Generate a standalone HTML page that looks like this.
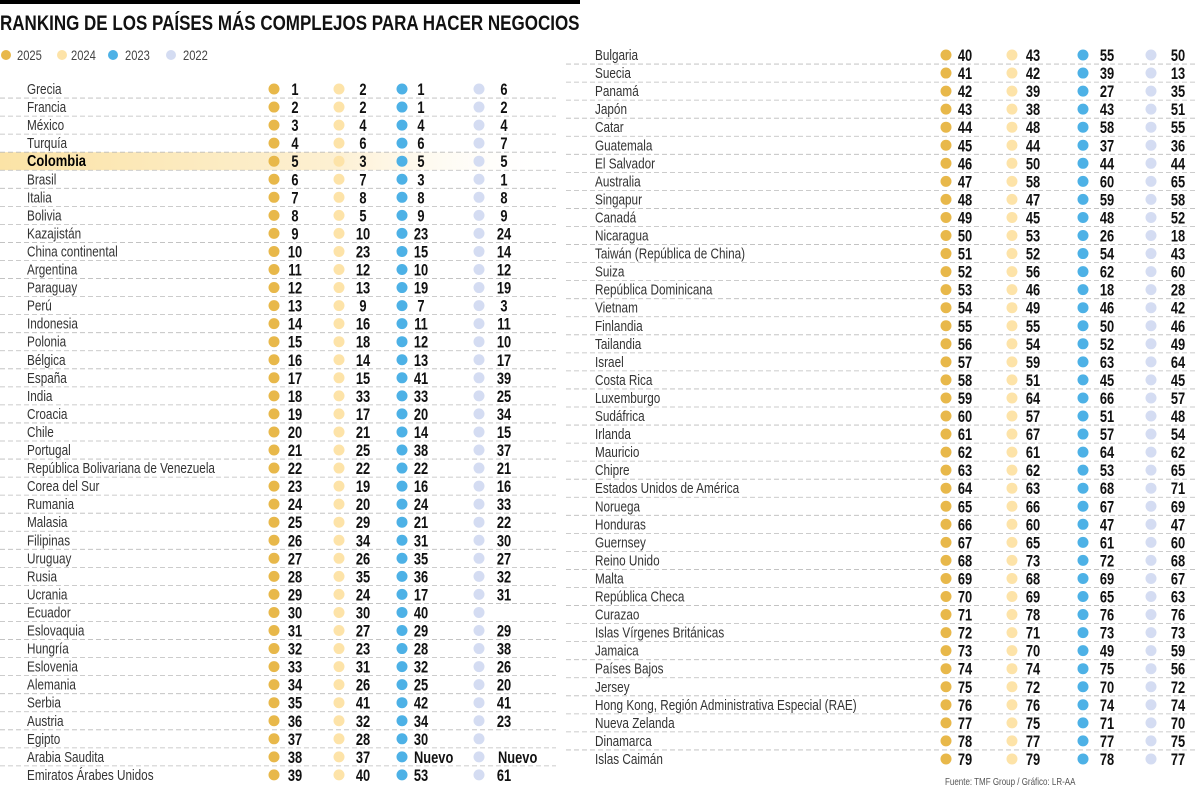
<!DOCTYPE html>
<html><head><meta charset="utf-8">
<style>
html,body{margin:0;padding:0;background:#fff;width:1200px;height:791px;overflow:hidden}
svg{display:block}
text{font-family:"Liberation Sans Narrow","Liberation Sans",sans-serif}
</style></head>
<body>
<svg id="chart" width="1200" height="791" viewBox="0 0 1200 791" xmlns="http://www.w3.org/2000/svg">
<defs>
<linearGradient id="hl" x1="0" x2="1" y1="0" y2="0">
<stop offset="0" stop-color="#fbe3a6"/><stop offset="0.6" stop-color="#fdf0d2"/><stop offset="1" stop-color="#fff" stop-opacity="0"/>
</linearGradient>
</defs>
<rect x="0" y="0" width="580" height="4" fill="#000"/>
<text transform="translate(0,30) scale(0.81,1)" font-size="21" font-weight="bold" fill="#111">RANKING DE LOS PAÍSES MÁS COMPLEJOS PARA HACER NEGOCIOS</text>
<g font-size="14" fill="#444">
<circle cx="6" cy="55" r="5" fill="#e8b84a"/><text transform="translate(17,60) scale(0.8,1)">2025</text>
<circle cx="62" cy="55" r="5" fill="#fde3a8"/><text transform="translate(71,60) scale(0.8,1)">2024</text>
<circle cx="113" cy="55" r="5" fill="#4db1e6"/><text transform="translate(125,60) scale(0.8,1)">2023</text>
<circle cx="171" cy="55" r="5" fill="#d4dcf2"/><text transform="translate(183,60) scale(0.8,1)">2022</text>
</g>
<g id="rows"></g>
<text transform="translate(945,785) scale(0.8,1)" font-size="10" fill="#555">Fuente: TMF Group / Gráfico: LR-AA</text>
</svg>
<script>
const countries = ["Grecia","Francia","México","Turquía","Colombia","Brasil","Italia","Bolivia","Kazajistán","China continental","Argentina","Paraguay","Perú","Indonesia","Polonia","Bélgica","España","India","Croacia","Chile","Portugal","República Bolivariana de Venezuela","Corea del Sur","Rumania","Malasia","Filipinas","Uruguay","Rusia","Ucrania","Ecuador","Eslovaquia","Hungría","Eslovenia","Alemania","Serbia","Austria","Egipto","Arabia Saudita","Emiratos Árabes Unidos",
"Bulgaria","Suecia","Panamá","Japón","Catar","Guatemala","El Salvador","Australia","Singapur","Canadá","Nicaragua","Taiwán (República de China)","Suiza","República Dominicana","Vietnam","Finlandia","Tailandia","Israel","Costa Rica","Luxemburgo","Sudáfrica","Irlanda","Mauricio","Chipre","Estados Unidos de América","Noruega","Honduras","Guernsey","Reino Unido","Malta","República Checa","Curazao","Islas Vírgenes Británicas","Jamaica","Países Bajos","Jersey","Hong Kong, Región Administrativa Especial (RAE)","Nueva Zelanda","Dinamarca","Islas Caimán"];
const rank2025 = [1,2,3,4,5,6,7,8,9,10,11,12,13,14,15,16,17,18,19,20,21,22,23,24,25,26,27,28,29,30,31,32,33,34,35,36,37,38,39,
40,41,42,43,44,45,46,47,48,49,50,51,52,53,54,55,56,57,58,59,60,61,62,63,64,65,66,67,68,69,70,71,72,73,74,75,76,77,78,79];
const rank2024 = [2,2,4,6,3,7,8,5,10,23,12,13,9,16,18,14,15,33,17,21,25,22,19,20,29,34,26,35,24,30,27,23,31,26,41,32,28,37,40,
43,42,39,38,48,44,50,58,47,45,53,52,56,46,49,55,54,59,51,64,57,67,61,62,63,66,60,65,73,68,69,78,71,70,74,72,76,75,77,79];
const rank2023 = [1,1,4,6,5,3,8,9,23,15,10,19,7,11,12,13,41,33,20,14,38,22,16,24,21,31,35,36,17,40,29,28,32,25,42,34,30,"Nuevo",53,
55,39,27,43,58,37,44,60,59,48,26,54,62,18,46,50,52,63,45,66,51,57,64,53,68,67,47,61,72,69,65,76,73,49,75,70,74,71,77,78];
const rank2022 = [6,2,4,7,5,1,8,9,24,14,12,19,3,11,10,17,39,25,34,15,37,21,16,33,22,30,27,32,31,"",29,38,26,20,41,23,"","Nuevo",61,
50,13,35,51,55,36,44,65,58,52,18,43,60,28,42,46,49,64,45,57,48,54,62,65,71,69,47,60,68,67,63,76,73,59,56,72,74,70,75,77];
const highlight = "Colombia";

const NS = "http://www.w3.org/2000/svg";
const g = document.getElementById("rows");
const colors = ["#e8b84a","#fde3a8","#4db1e6","#d4dcf2"];
const panels = [
  {start:0, n:39, y0:89, nameX:27, dots:[274,339,402,479], nums:[295,363,421,504], nuevo:[289,355,414,498], x0:0, x1:556},
  {start:39, n:40, y0:55, nameX:595, dots:[946,1012,1083,1151], nums:[965,1033,1107,1178], nuevo:[958,1026,1100,1170], x0:566, x1:1196}
];
const step = 18.05;
function rowY(p, i){ return p.y0 + i*step; }
function mk(tag, attrs){ const e=document.createElementNS(NS,tag); for(const k in attrs) e.setAttribute(k,attrs[k]); return e; }
const series = [rank2025, rank2024, rank2023, rank2022];
panels.forEach(p=>{
  for(let i=0;i<p.n;i++){
    const idx = p.start+i;
    const cy = rowY(p,i);
    const hi = countries[idx]===highlight;
    const row = mk("g",{});
    
    
    if(hi){
      const r = mk("rect",{x:p.x0,y:cy-9,width:560,height:18,fill:"url(#hl)"});
      
      
      row.appendChild(r);
    }
    if(i>0){
      const l = mk("line",{x1:p.x0,x2:p.x1,y1:cy-9,y2:cy-9,stroke:"#bbb","stroke-width":0.8,"stroke-dasharray":"5 3"});
      
      
      row.appendChild(l);
    }
    const t = mk("text",{transform:"translate("+p.nameX+","+(cy+5)+") scale(0.81,1)","font-size":hi?16:14.5,fill:hi?"#000":"#333","font-weight":hi?"bold":"normal"});
    t.textContent = countries[idx];
    
    
    row.appendChild(t);
    series.forEach((s,k)=>{
      const c = mk("circle",{cx:p.dots[k],cy:cy,r:5.5,fill:colors[k]});
      
      
      row.appendChild(c);
      const v = s[idx];
      if(v!==""){
        const isN = typeof v==="string";
        const x = isN?p.nuevo[k]:p.nums[k];
        const n = mk("text",{transform:"translate("+x+","+(cy+6)+") scale(0.78,1)","font-size":16.5,"font-weight":"bold",fill:"#111","text-anchor":isN?"start":"middle"});
        n.textContent = v;
        
        
        row.appendChild(n);
      }
    });
    g.appendChild(row);
  }
});
</script>
</body></html>
